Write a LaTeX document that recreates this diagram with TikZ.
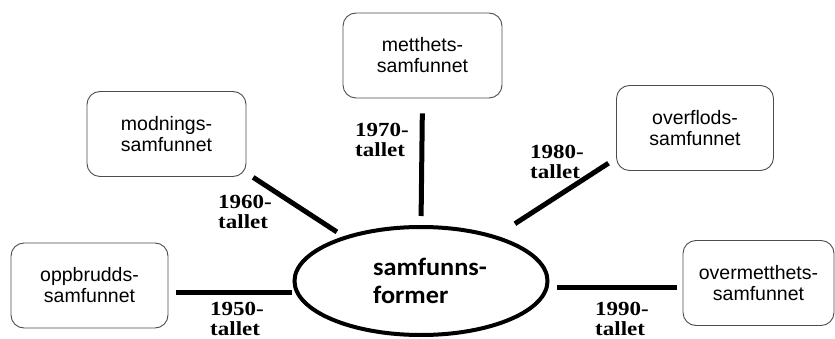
\documentclass[tikz,border=0pt]{standalone}
\usepackage{fontspec}
\setmainfont{Liberation Sans}
\newfontfamily\yearfont[FakeStretch=1.15]{Liberation Serif}
\newfontfamily\hubfont[FakeStretch=1.05]{Carlito}
\usetikzlibrary{shapes.geometric}

\begin{document}
\begin{tikzpicture}[x=1pt, y=-1pt,
    samfbox/.style={draw=black!70, line width=0.9pt, rounded corners=13pt,
        minimum width=157pt, minimum height=85pt, inner sep=0pt,
        align=center, font=\fontsize{19.5}{21}\selectfont},
    period/.style={draw, line width=5pt},
    yearlbl/.style={anchor=north west, inner sep=0pt, align=left,
        font=\yearfont\bfseries\fontsize{20}{20}\selectfont}]

\useasboundingbox (0,0) rectangle (835,339);

% Centre
\node[ellipse, draw, line width=4pt, minimum width=253pt, minimum height=108pt,
    inner sep=0pt, align=left, font=\hubfont\bfseries\fontsize{25}{28}\selectfont]
    (sam) at (421,281) {\hspace*{18pt}samfunns-\\\hspace*{18pt}former};

% Boxes
\node[samfbox] (oppbrudds) at (89.5,285.5) {oppbrudds-\\samfunnet};
\node[samfbox, minimum width=159pt] (modnings) at (166.5,134) {modnings-\\samfunnet};
\node[samfbox, minimum width=159pt] (metthets) at (422.5,55.5) {metthets-\\samfunnet};
\node[samfbox] (overflods) at (695,128) {overflods-\\samfunnet};
\node[samfbox, minimum width=151pt] (overmetthets) at (758.5,283) {overmetthets-\\samfunnet};

% Periods
\draw[period, shorten <=3pt, shorten >=8pt] (sam.185) -- (sam.185 -| oppbrudds.east);
\draw[period, shorten <=8pt, shorten >=8pt] (sam.150.5) -- (modnings.334);
\draw[period, shorten <=9pt, shorten >=15pt] (sam.north) -- (metthets.south);
\draw[period, shorten <=22pt, shorten >=9pt] (sam.31.6) -- (overflods.201);
\draw[period, shorten <=8pt, shorten >=6pt] (sam.357) -- (sam.357 -| overmetthets.west);

\node[yearlbl] (y1950) at (210,302) {1950-\\tallet};
\node[yearlbl] (y1960) at (218,195) {1960-\\tallet};
\node[yearlbl] (y1970) at (355,123) {1970-\\tallet};
\node[yearlbl] (y1980) at (530,145) {1980-\\tallet};
\node[yearlbl] (y1990) at (595,302) {1990-\\tallet};

\end{tikzpicture}
\end{document}
